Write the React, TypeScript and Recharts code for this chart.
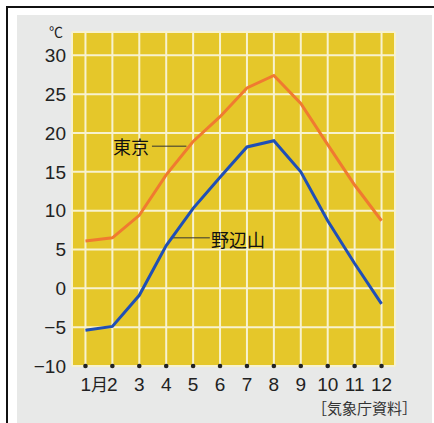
import React from 'react';
import { LineChart, Line, XAxis, YAxis, CartesianGrid, ReferenceLine } from 'recharts';

const months = [1, 2, 3, 4, 5, 6, 7, 8, 9, 10, 11, 12];
const tokyo = [6.1, 6.5, 9.4, 14.6, 18.9, 22.1, 25.8, 27.4, 23.8, 18.5, 13.3, 8.7];
const nobeyama = [-5.4, -4.9, -0.9, 5.5, 10.3, 14.3, 18.2, 19.0, 15.0, 8.7, 3.2, -2.0];
const yTicks = [-10, -5, 0, 5, 10, 15, 20, 25, 30];

const data = months.map((m, i) => ({ month: m, tokyo: tokyo[i], nobeyama: nobeyama[i] }));

const NUM_FONT = '"Liberation Sans Narrow", "Liberation Sans", Arial, sans-serif';
const JP_FONT = '"Noto Sans CJK JP", sans-serif';

const MonthTick = (props: any) => {
    const { x, y, payload } = props;
    const first = payload.value === 1;
    return (
        <g>
            <circle cx={x} cy={y} r={2.3} fill="#222" />
            <text
                x={first ? x - 5 : x}
                y={y + 25}
                textAnchor={first ? 'start' : 'middle'}
                fontSize={19}
                fontFamily={NUM_FONT}
                fill="#222"
            >
                {first ? (
                    <>
                        1<tspan fontFamily={JP_FONT} fontSize={17}>月</tspan>
                    </>
                ) : (
                    payload.value
                )}
            </text>
        </g>
    );
};

export default function App() {
    return (
        <div style={{ position: 'absolute', left: 0, top: 0, width: 434, height: 423, background: '#fff' }}>
            {/* frame and grey panel */}
            <div style={{ position: 'absolute', left: 17, top: 15, width: 415, height: 408, background: '#e8e9e8' }} />
            <div style={{ position: 'absolute', left: 6, top: 6, width: 428, height: 2, background: '#111' }} />
            <div style={{ position: 'absolute', left: 6, top: 6, width: 2, height: 417, background: '#111' }} />

            <div style={{ position: 'absolute', left: 0, top: 0 }}>
                <LineChart width={434} height={423} data={data} margin={{ top: 32, right: 39, bottom: 0, left: 0 }}>
                    <CartesianGrid fill="#e5c72a" fillOpacity={1} stroke="#f7f2cf" strokeWidth={2} />
                    <XAxis
                        dataKey="month"
                        type="number"
                        domain={[0.5, 12.5]}
                        ticks={months}
                        allowDataOverflow
                        axisLine={false}
                        tickLine={false}
                        tickSize={0}
                        tickMargin={0}
                        height={57}
                        interval={0}
                        tick={<MonthTick />}
                    />
                    <YAxis
                        type="number"
                        domain={[-10, 33]}
                        ticks={yTicks}
                        allowDataOverflow
                        axisLine={false}
                        tickLine={false}
                        tickSize={0}
                        tickMargin={6}
                        width={72}
                        interval={0}
                        tickFormatter={(v: number) => String(v).replace('-', '−')}
                        tick={{ fontSize: 19, fontFamily: NUM_FONT, fill: '#222' }}
                    />
                    <ReferenceLine
                        segment={[{ x: 3.47, y: 18.3 }, { x: 4.75, y: 18.3 }]}
                        stroke="#333"
                        strokeWidth={1}
                    />
                    <ReferenceLine
                        segment={[{ x: 4.2, y: 6.5 }, { x: 5.62, y: 6.5 }]}
                        stroke="#333"
                        strokeWidth={1}
                    />
                    <Line
                        type="linear"
                        dataKey="tokyo"
                        stroke="#f07a30"
                        strokeWidth={3}
                        dot={false}
                        isAnimationActive={false}
                    />
                    <Line
                        type="linear"
                        dataKey="nobeyama"
                        stroke="#1f4fb6"
                        strokeWidth={3}
                        dot={false}
                        isAnimationActive={false}
                    />
                </LineChart>
            </div>

            <svg width={434} height={423} style={{ position: 'absolute', left: 0, top: 0, pointerEvents: 'none' }}>
                <text x={56} y={37} textAnchor="middle" fontSize={14} fontFamily={JP_FONT} fill="#222">℃</text>
                <text x={113} y={154} fontSize={18} fontFamily={JP_FONT} fill="#111">東京</text>
                <text x={211} y={247} fontSize={18} fontFamily={JP_FONT} fill="#111">野辺山</text>
                <text x={417} y={414} textAnchor="end" fontSize={15} fontFamily={JP_FONT} fill="#333">［気象庁資料］</text>
            </svg>
        </div>
    );
}
